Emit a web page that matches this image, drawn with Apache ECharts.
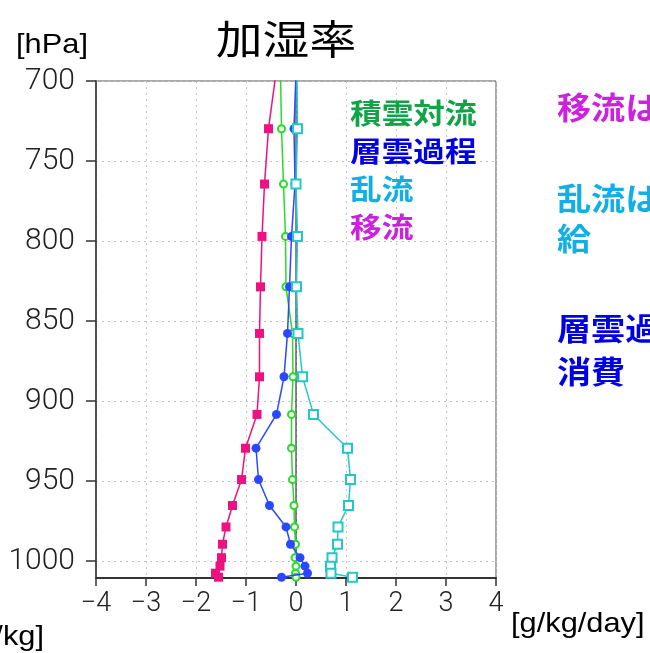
<!DOCTYPE html>
<html><head><meta charset="utf-8">
<script src="https://cdn.jsdelivr.net/npm/echarts@6/dist/echarts.min.js"></script>
<style>html,body{margin:0;padding:0;background:#fff}#c{width:650px;height:653px}</style>
</head><body><div id="c"></div>
<script>
// pressure levels [hPa] (first level lies above the plotted range and is clipped)
const pressure = [695, 729.8, 764.4, 797.1, 828.6, 857.7, 884.8, 908.3, 929.4, 949.0, 965.2, 978.6, 989.4, 997.8, 1003.1, 1007.5, 1010.0];
// moistening rates [g/kg/day]
const cumulus   = [-0.31, -0.29, -0.25, -0.21, -0.20, -0.07, -0.06, -0.09, -0.09, -0.07, -0.04, -0.03, -0.01, -0.02, 0.00, -0.01, 0.00];
const stratus   = [0.00, -0.04, -0.02, -0.09, -0.13, -0.17, -0.24, -0.39, -0.80, -0.75, -0.53, -0.20, -0.11, 0.08, 0.18, 0.23, -0.29];
const turbulence= [0.02, 0.03, 0.00, 0.03, 0.01, 0.04, 0.13, 0.35, 1.03, 1.09, 1.05, 0.84, 0.83, 0.72, 0.69, 0.70, 1.13];
const advection = [-0.40, -0.55, -0.63, -0.68, -0.71, -0.73, -0.73, -0.78, -1.01, -1.09, -1.27, -1.40, -1.47, -1.49, -1.52, -1.61, -1.55];
const seriesNames = ['積雲対流', '層雲過程', '乱流', '移流'];
const yTicks = [700, 750, 800, 850, 900, 950, 1000];
const xTicks = [-4, -3, -2, -1, 0, 1, 2, 3, 4];

const pairs = vals => vals.map((v, i) => [v, pressure[i]]);
const chart = echarts.init(document.getElementById('c'), null, {renderer: 'canvas'});
const numFont = 'Roboto, "Liberation Sans", sans-serif';
const cjk = '"Noto Sans CJK JP", sans-serif';

function txt(x, y, text, size, color, opts) {
  opts = opts || {};
  return {
    type: 'text', x: x, y: y, scaleX: opts.sx || 1, z: 100, silent: true,
    style: {
      text: text, fill: color,
      font: (opts.weight || 'normal') + ' ' + size + 'px ' + (opts.family || cjk),
      align: opts.align || 'left', verticalAlign: 'middle'
    }
  };
}

chart.setOption({
  animation: false,
  grid: {left: 96, right: 154, top: 81, bottom: 75, show: true, borderColor: '#555', borderWidth: 1, backgroundColor: 'transparent'},
  xAxis: {
    type: 'value', min: -4, max: 4, interval: 1,
    axisLine: {show: true, onZero: false, lineStyle: {color: '#333', width: 2}},
    axisTick: {show: true, length: 8, lineStyle: {color: '#333', width: 1.5}, customValues: xTicks},
    axisLabel: {show: true, margin: 13, fontSize: 27, color: '#222', fontFamily: numFont, fontWeight: 300, customValues: xTicks,
      formatter: v => (v < 0 ? '\u2212' + Math.abs(v) : String(v))},
    splitLine: {show: true, lineStyle: {color: '#c4c4c4', type: [2, 4], width: 1}}
  },
  yAxis: {
    type: 'value', inverse: true, min: 700, max: 1010.5, interval: 50,
    axisLine: {show: true, onZero: false, lineStyle: {color: '#333', width: 1.5}},
    axisTick: {show: true, length: 10, lineStyle: {color: '#333', width: 1.5}, customValues: yTicks},
    axisLabel: {show: true, margin: 21, fontSize: 30, color: '#222', fontFamily: numFont, fontWeight: 300, customValues: yTicks,
      formatter: v => String(v)},
    splitLine: {show: true, lineStyle: {color: '#c4c4c4', type: [2, 4], width: 1}}
  },
  series: [
    {type: 'line', name: 'zero', data: [[0, 700], [0, 1010.5]], symbol: 'none', silent: true,
      lineStyle: {color: '#111', width: 1}, z: 1},
    {type: 'line', name: seriesNames[0], data: pairs(cumulus), clip: true,
      symbol: 'emptyCircle', symbolSize: 7, lineStyle: {color: '#26dc26', width: 1.5},
      itemStyle: {color: '#26dc26', borderColor: '#26dc26', borderWidth: 1.5}, z: 2},
    {type: 'line', name: seriesNames[1], data: pairs(stratus), clip: true,
      symbol: 'circle', symbolSize: 9, lineStyle: {color: '#2a48ff', width: 1.5},
      itemStyle: {color: '#2a48ff'}, z: 3},
    {type: 'line', name: seriesNames[2], data: pairs(turbulence), clip: true,
      symbol: 'emptyRect', symbolSize: 9, lineStyle: {color: '#22c8c8', width: 1.5},
      itemStyle: {color: '#22c8c8', borderColor: '#22c8c8', borderWidth: 1.5}, z: 4},
    {type: 'line', name: seriesNames[3], data: pairs(advection), clip: true,
      symbol: 'rect', symbolSize: 9, lineStyle: {color: '#ee1180', width: 1.5},
      itemStyle: {color: '#ee1180'}, z: 5}
  ],
  graphic: [
    txt(286, 39, '加湿率', 40, '#000', {align: 'center', sx: 1.17}),
    txt(52, 45, '[hPa]', 28, '#000', {align: 'center', sx: 1.1, family: '"Liberation Sans", Arial, sans-serif'}),
    txt(511, 624, '[g/kg/day]', 28, '#000', {sx: 1.1, family: '"Liberation Sans", Arial, sans-serif'}),
    txt(44, 637, '[g/kg]', 28, '#000', {align: 'right', sx: 1.1, family: '"Liberation Sans", Arial, sans-serif'}),
    txt(350, 113, seriesNames[0], 28, '#12a347', {weight: 'bold', sx: 1.13}),
    txt(350, 151, seriesNames[1], 28, '#0000e6', {weight: 'bold', sx: 1.13}),
    txt(350, 189, seriesNames[2], 28, '#12aee6', {weight: 'bold', sx: 1.13}),
    txt(350, 227, seriesNames[3], 28, '#cc22e0', {weight: 'bold', sx: 1.13}),
    txt(557, 107, '移流は', 31, '#cc22e0', {weight: 'bold', sx: 1.1}),
    txt(557, 198, '乱流は', 31, '#12aee6', {weight: 'bold', sx: 1.1}),
    txt(557, 238, '給', 31, '#12aee6', {weight: 'bold', sx: 1.1}),
    txt(557, 328, '層雲過', 31, '#0000e6', {weight: 'bold', sx: 1.1}),
    txt(557, 371, '消費', 31, '#0000e6', {weight: 'bold', sx: 1.1})
  ]
});
</script></body></html>
